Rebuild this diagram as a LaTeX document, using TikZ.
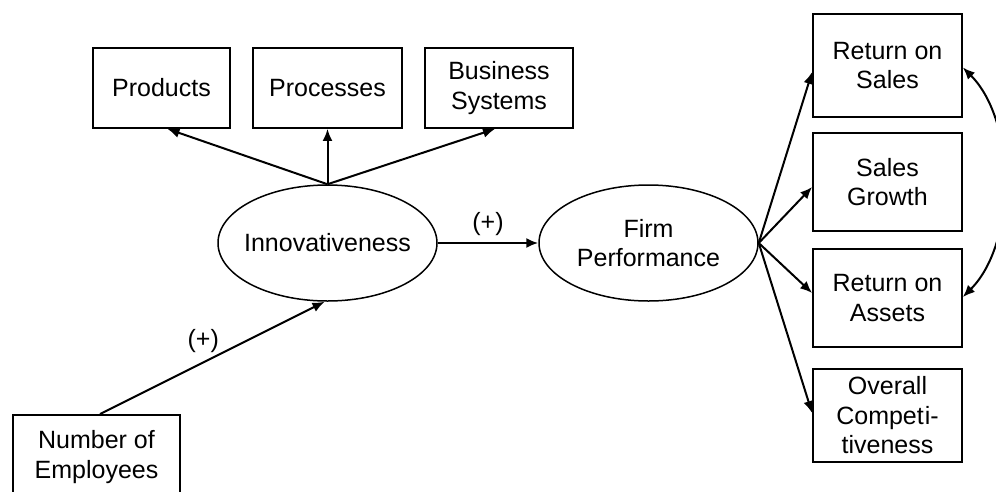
\documentclass[tikz,border=0pt]{standalone}
\usepackage{fontspec}
\setmainfont{Liberation Sans}
\usetikzlibrary{arrows.meta,shapes.geometric}
\begin{document}
\begin{tikzpicture}[x=1pt,y=-1pt,
  every node/.style={font=\fontsize{25}{29.5}\selectfont, align=center, inner sep=0pt},
  box/.style={draw, line width=1.8pt, rectangle},
  latent/.style={draw, line width=1.5pt, ellipse, minimum width=219pt, minimum height=116pt},
  link/.style={line width=2pt, -{Latex[length=12pt,width=10pt]}},
  sign/.style={font=\fontsize{25}{29.5}\selectfont}]
\useasboundingbox (0,0) rectangle (996,491);
\clip (0,0) rectangle (996,491);

% indicators of innovativeness
\node[box, minimum width=137pt, minimum height=80pt] (prod) at (161.5,88) {Products};
\node[box, minimum width=149pt, minimum height=80pt] (proc) at (327.5,88) {Processes};
\node[box, minimum width=148pt, minimum height=80pt] (bsys) at (499,88) {Business\\Systems};

% latent constructs (outline sized independently of the text)
\node[latent, label={center:Innovativeness}] (inn) at (327.5,243) {};
\node[latent, label={[align=center]center:Firm\\Performance}] (firm) at (648.5,243) {};

% indicators of firm performance
\node[box, minimum width=149pt, minimum height=103pt] (ros) at (887.5,65.5) {Return on\\Sales};
\node[box, minimum width=149pt, minimum height=98pt] (sg) at (887.5,182) {Sales\\Growth};
\node[box, minimum width=149pt, minimum height=98pt] (roa) at (887.5,298) {Return on\\Assets};
\node[box, minimum width=149pt, minimum height=93pt] (oc) at (887.5,415.5) {Overall\\Compet\kern1pt i-\\tiveness};

% antecedent
\node[box, minimum width=167pt, minimum height=84pt] (emp) at (96.5,457) {Number of\\Employees};

% paths
\draw[link] (inn.north) -- ([xshift=6pt]prod.south);
\draw[link] (inn.north) -- (proc.south);
\draw[link] (inn.north) -- ([xshift=-4pt]bsys.south);

\draw[link] ([xshift=3.5pt]emp.north) -- node[sign, pos=0.46, above=9pt] {(+)} ([xshift=-3pt]inn.south);
\draw[link] (inn.east) -- node[sign, above=6pt] {(+)} (firm.west);

\draw[link] (firm.east) -- ([yshift=-6.5pt]ros.west);
\draw[link] (firm.east) -- ([yshift=-5pt]sg.west);
\draw[link] (firm.east) -- ([yshift=5pt]roa.west);
\draw[link] (firm.east) -- ([yshift=2.5pt]oc.west);

% correlated measures
\draw[line width=2pt, {Latex[length=12pt,width=10pt]}-{Latex[length=12pt,width=10pt]}]
  ([yshift=-2pt]ros.east) to[out=-45, in=45, looseness=0.85] ([yshift=1pt]roa.east);
\end{tikzpicture}
\end{document}
